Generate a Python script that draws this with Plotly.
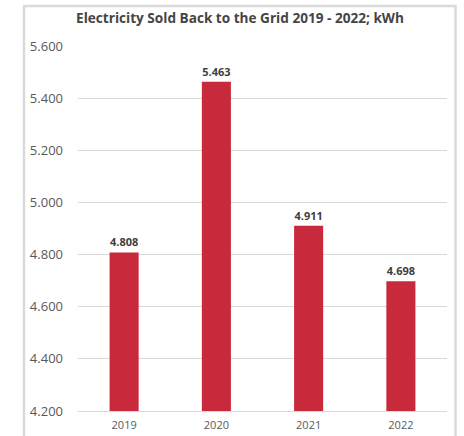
import plotly.graph_objects as go

# Electricity sold back to the grid per year (kWh)
years = ["2019", "2020", "2021", "2022"]
kwh_sold = [4808, 5463, 4911, 4698]
y_ticks = [4200, 4400, 4600, 4800, 5000, 5200, 5400, 5600]

W, H = 464, 436
ML, MR, MT, MB = 78, 17, 46, 25
pw, ph = W - ML - MR, H - MT - MB


def px_to_paper_x(px):
    return (px - ML) / pw


def px_to_paper_y(py):
    return (H - MB - py) / ph


fig = go.Figure()
fig.add_trace(go.Bar(
    x=years,
    y=kwh_sold,
    marker=dict(color="#c8293b", line=dict(width=0)),
    text=kwh_sold,
    texttemplate="<b>%{y:,}</b>",
    textposition="outside",
    textfont=dict(family="Open Sans", size=11, color="#404040"),
    cliponaxis=False,
))

# Light frame around the chart
fig.add_shape(
    type="rect", xref="paper", yref="paper",
    x0=px_to_paper_x(24), x1=px_to_paper_x(455.5),
    y0=px_to_paper_y(445), y1=px_to_paper_y(6),
    line=dict(color="#dadada", width=2.5),
    layer="below",
)

fig.update_layout(
    width=W, height=H,
    margin=dict(l=ML, r=MR, t=MT, b=MB, autoexpand=False),
    paper_bgcolor="white",
    plot_bgcolor="white",
    separators=",.",
    bargap=0.685,
    showlegend=False,
    title=dict(
        text="<b>Electricity Sold Back to the Grid 2019 - 2022; kWh</b>",
        x=240 / W,
        xanchor="center",
        y=1 - 18 / H,
        yanchor="middle",
        font=dict(family="Open Sans", size=13.6, color="#454545"),
    ),
    font=dict(family="Open Sans", color="#595959"),
    xaxis=dict(
        automargin=False,
        showline=True,
        linecolor="#d9d9d9",
        linewidth=1,
        ticks="",
        ticklabelstandoff=4,
        tickfont=dict(family="Open Sans", size=11, color="#595959"),
        showgrid=False,
    ),
    yaxis=dict(
        automargin=False,
        range=[4200, 5600],
        tickvals=y_ticks,
        tickformat=",d",
        separatethousands=True,
        showgrid=True,
        gridcolor="#d9d9d9",
        gridwidth=1,
        zeroline=False,
        showline=False,
        ticks="",
        ticklabelstandoff=14,
        tickfont=dict(family="Open Sans", size=13, color="#595959"),
    ),
)

fig.write_html("out.html")
